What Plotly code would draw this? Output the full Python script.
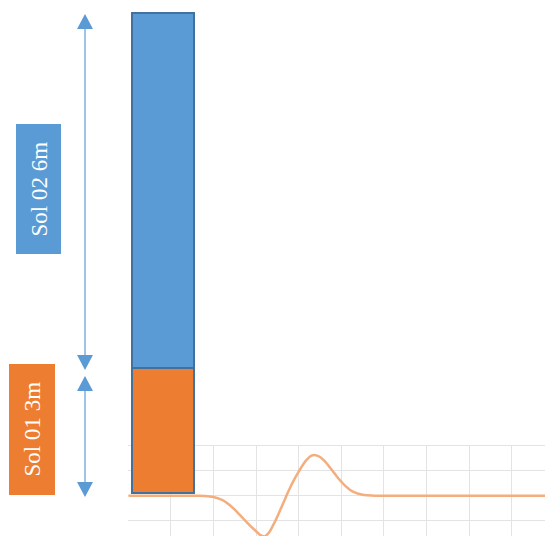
import plotly.graph_objects as go

# ---- data ----
layer_names = ["Sol 01 3m", "Sol 02 6m"]
layer_heights = [125, 355]          # drawn thickness of each layer (chart units)
layer_colors = ["#ED7D31", "#5B9BD5"]

wave_x = [0, 1.0, 1.6, 1.8, 2.0, 2.1, 2.2, 2.3, 2.4, 2.5, 2.6, 2.7, 2.8, 2.9, 3.0,
          3.1, 3.2, 3.3, 3.4, 3.5, 3.6, 3.7, 3.8, 3.9, 4.0, 4.1, 4.2, 4.3, 4.4,
          4.5, 4.6, 4.7, 4.8, 4.9, 5.0, 5.1, 5.2, 5.3, 5.4, 5.5, 5.6, 5.8, 6.5, 8.0, 9.8]
wave_y = [0, 0, 0, -0.01, -0.05, -0.1, -0.17, -0.27, -0.4, -0.56, -0.74, -0.92, -1.1,
          -1.27, -1.42, -1.58, -1.63, -1.48, -1.18, -0.83, -0.44, -0.05, 0.33, 0.66, 0.96,
          1.24, 1.46, 1.6, 1.62, 1.55, 1.4, 1.2, 0.98, 0.76, 0.56, 0.38, 0.24, 0.14,
          0.08, 0.04, 0.02, 0, 0, 0, 0]

PAGE_W, PAGE_H = 545, 536
W, H = PAGE_W, PAGE_H
bar_x = 163
bar_w = 62
arrow_x = 85
base_px = 493                # page pixel row of the bar base

fig = go.Figure()

# wave + grid on first subplot (drawn underneath)
fig.add_trace(go.Scatter(x=wave_x, y=wave_y, mode="lines",
                         line=dict(color="#F4AE7E", width=2.5, shape="spline", smoothing=1.0),
                         xaxis="x", yaxis="y", showlegend=False, hoverinfo="skip"))

# stacked bars on second subplot (drawn above)
for name, h, c in zip(layer_names, layer_heights, layer_colors):
    fig.add_trace(go.Bar(x=[bar_x], y=[h], width=bar_w, name=name,
                         marker=dict(color=c, line=dict(color="#41719C", width=2)),
                         xaxis="x2", yaxis="y2", showlegend=False, hoverinfo="skip"))

# arrows derived from layer extents
bottoms = [0, layer_heights[0]]
tops = [layer_heights[0], layer_heights[0] + layer_heights[1]]
gaps = [(8, 4), (1, 2)]  # (top gap, bottom gap)
tri_w, tri_h = 8, 15
for b, t, (gt, gb) in zip(bottoms, tops, gaps):
    up_tip = t - gt
    dn_tip = b - gb
    fig.add_trace(go.Scatter(x=[arrow_x, arrow_x], y=[up_tip - tri_h, dn_tip + tri_h], mode="lines",
                             line=dict(color="#9DC3E6", width=2), xaxis="x2", yaxis="y2",
                             showlegend=False, hoverinfo="skip"))
    for tip, sgn in ((up_tip, -1), (dn_tip, 1)):
        fig.add_trace(go.Scatter(x=[arrow_x - tri_w, arrow_x + tri_w, arrow_x, arrow_x - tri_w],
                                 y=[tip + sgn * tri_h, tip + sgn * tri_h, tip, tip + sgn * tri_h],
                                 mode="lines", fill="toself", fillcolor="#5B9BD5",
                                 line=dict(width=0, color="#5B9BD5"),
                                 xaxis="x2", yaxis="y2", showlegend=False, hoverinfo="skip"))

# label boxes
boxes = [  # (x0, x1, y0, y1) in chart units
    (9, 55, -2, 129),
    (16, 61, 239, 369),
]
for (x0, x1, y0, y1), name, c in zip(boxes, layer_names, layer_colors):
    fig.add_shape(type="rect", xref="x2", yref="y2", x0=x0, x1=x1, y0=y0, y1=y1,
                  fillcolor=c, line=dict(width=0), layer="above")
    fig.add_annotation(xref="x2", yref="y2", x=(x0 + x1) / 2, y=(y0 + y1) / 2, text=name,
                       textangle=-90, showarrow=False,
                       font=dict(family="Liberation Serif", size=23, color="white"))

x0px = 128.3
ux = 42.6
uy = 25.0
y0px = 495.7
top_px = 444.5
fig.update_layout(
    width=W, height=H, margin=dict(l=0, r=0, t=0, b=0, pad=0), autosize=False,
    paper_bgcolor="white", plot_bgcolor="rgba(0,0,0,0)", barmode="stack",
    xaxis=dict(domain=[x0px / W, 1], range=[0, (PAGE_W - x0px) / ux], dtick=1,
               showgrid=True, gridcolor="#E3E3E3", gridwidth=1,
               zeroline=False, showticklabels=False, ticks="", showline=False),
    yaxis=dict(domain=[0, (PAGE_H - top_px) / H],
               range=[-(PAGE_H - y0px) / uy, (y0px - top_px) / uy], dtick=1, tick0=0,
               showgrid=True, gridcolor="#E3E3E3", gridwidth=1,
               zeroline=False, showticklabels=False, ticks="", showline=False),
    xaxis2=dict(domain=[0, 1], range=[0, PAGE_W], visible=False, anchor="y2"),
    yaxis2=dict(domain=[0, 1], range=[base_px - PAGE_H, base_px], visible=False, anchor="x2"),
)
fig.write_html("out.html", config={"displayModeBar": False},
               post_script="document.body.style.margin='0';document.body.style.overflow='hidden';"
                           "document.documentElement.style.overflow='hidden';")
